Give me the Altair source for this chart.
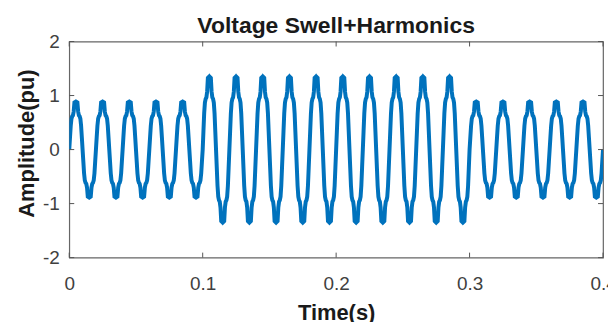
import altair as alt
import pandas as pd

# One cycle of the waveform (36 samples, normalised to a peak of 1)
CYCLE_SHAPE = [
    0.00, 0.25, 0.50, 0.65, 0.70, 0.72, 0.80, 0.99, 1.00,
    0.97, 1.00, 0.99, 0.80, 0.72, 0.70, 0.65, 0.50, 0.25,
    0.00, -0.25, -0.50, -0.65, -0.70, -0.72, -0.80, -0.99, -1.00,
    -0.97, -1.00, -0.99, -0.80, -0.72, -0.70, -0.65, -0.50, -0.25,
]
# Peak amplitude (pu) of each of the 20 cycles (50 Hz, 0-0.4 s)
CYCLE_PEAK = [
    0.88, 0.88, 0.88, 0.88, 0.88,
    1.34, 1.34, 1.34, 1.34, 1.34, 1.34, 1.34, 1.34, 1.34, 1.34,
    0.88, 0.88, 0.88, 0.88, 0.88,
]
CYCLE_PERIOD = 0.02
X_TICKS = [0, 0.1, 0.2, 0.3, 0.4]
Y_TICKS = [-2, -1, 0, 1, 2]
TITLE = "Voltage Swell+Harmonics"
X_TITLE = "Time(s)"
Y_TITLE = "Amplitude(pu)"

rows = []
n = len(CYCLE_SHAPE)
for c, peak in enumerate(CYCLE_PEAK):
    for k, s in enumerate(CYCLE_SHAPE):
        rows.append({"t": (c + k / n) * CYCLE_PERIOD, "v": s * peak})
rows.append({"t": len(CYCLE_PEAK) * CYCLE_PERIOD, "v": 0.0})
df = pd.DataFrame(rows)

W, H = 536, 217
FONT = "Liberation Sans"
xs = alt.Scale(domain=[0, 0.4], nice=False, zero=False)
ys = alt.Scale(domain=[-2, 2], nice=False, zero=False)

axis_style = dict(
    tickSize=0, domain=False, grid=False, labelFlush=False,
    labelFont=FONT, labelFontSize=19, labelColor="#404040",
    titleFont=FONT, titleFontSize=22, titleFontWeight="bold", titleColor="#1a1a1a",
)
x_axis = alt.Axis(values=X_TICKS, format="~g", labelPadding=17,
                  titleBaseline="alphabetic", titleX=W / 2, titleY=62, **axis_style)
y_axis = alt.Axis(values=Y_TICKS, labelPadding=10,
                  labelExpr="datum.value < 0 ? '-' + abs(datum.value) : '' + datum.value",
                  titleBaseline="middle", titleX=-43, titleY=102, **axis_style)

line = alt.Chart(df).mark_line(color="#0072BD", strokeWidth=4, clip=True).encode(
    x=alt.X("t:Q", scale=xs, title=X_TITLE, axis=x_axis),
    y=alt.Y("v:Q", scale=ys, title=Y_TITLE, axis=y_axis),
)

xt = pd.DataFrame({"t": X_TICKS})
yt = pd.DataFrame({"v": Y_TICKS})
tick_color = "#555555"
xb = alt.Chart(xt).mark_rule(color=tick_color, strokeWidth=1).encode(
    x=alt.X("t:Q", scale=xs, title=X_TITLE, axis=x_axis), y=alt.value(H), y2=alt.value(H - 5))
xtop = alt.Chart(xt).mark_rule(color=tick_color, strokeWidth=1).encode(
    x=alt.X("t:Q", scale=xs, title=X_TITLE, axis=x_axis), y=alt.value(0), y2=alt.value(5))
yl = alt.Chart(yt).mark_rule(color=tick_color, strokeWidth=1).encode(
    y=alt.Y("v:Q", scale=ys, title=Y_TITLE, axis=y_axis), x=alt.value(0), x2=alt.value(5))
yr = alt.Chart(yt).mark_rule(color=tick_color, strokeWidth=1).encode(
    y=alt.Y("v:Q", scale=ys, title=Y_TITLE, axis=y_axis), x=alt.value(W), x2=alt.value(W - 5))

title = alt.Chart(pd.DataFrame({"label": [TITLE]})).mark_text(
    font=FONT, fontSize=23, fontWeight="bold", color="#1a1a1a",
    align="center", baseline="alphabetic",
).encode(text="label:N", x=alt.value(W / 2), y=alt.value(-9))

chart = alt.layer(line, xb, xtop, yl, yr, title).properties(
    width=W, height=H,
    background="white",
    autosize=alt.AutoSizeParams(type="none"),
    padding={"left": 61.5, "top": 33, "right": 5, "bottom": 64},
).configure_view(stroke="#666666", strokeWidth=1.2)

chart.save("out.html", embed_options={"renderer": "svg", "actions": False})
